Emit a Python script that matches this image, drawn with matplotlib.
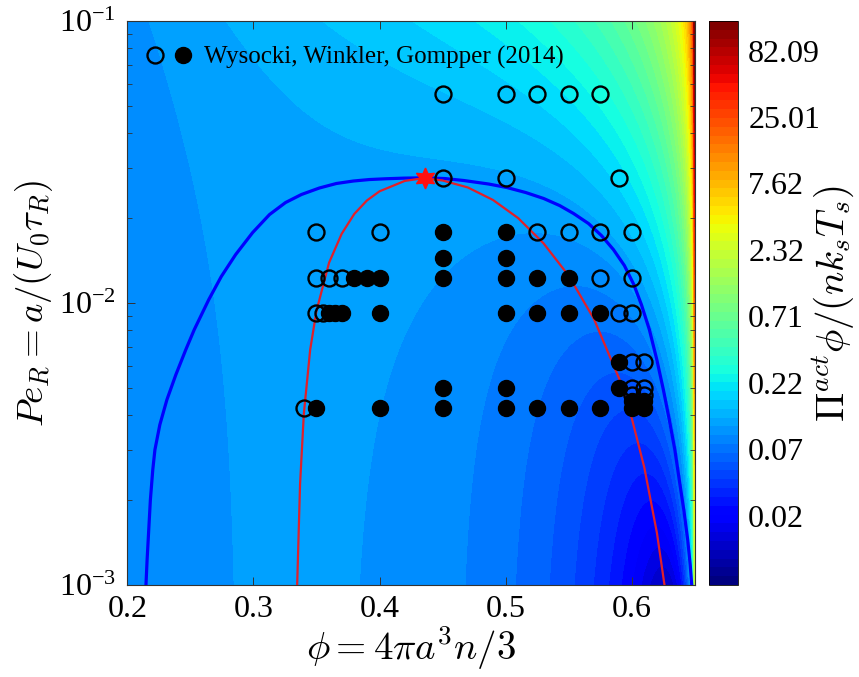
import numpy as np
import matplotlib.pyplot as plt
from matplotlib.colors import LogNorm
from matplotlib.cm import ScalarMappable
from matplotlib.legend_handler import HandlerTuple

plt.rcParams['font.family'] = 'Liberation Serif'
plt.rcParams['mathtext.fontset'] = 'cm'

# background map: active pressure model, Pi_act*phi/(n ks Ts)
phi0 = 0.65      # random close packing
coll = 3.0       # collisional coefficient
scale = 0.5

# binodal (blue)
binodal_phi = [0.2148, 0.2157, 0.2170, 0.2183, 0.2202, 0.2219, 0.2258, 0.2314,
               0.2385, 0.2464, 0.2531, 0.2646, 0.2745, 0.2859, 0.2994, 0.3128,
               0.3255, 0.3381, 0.3523, 0.3658, 0.3792, 0.3919, 0.4053, 0.4195,
               0.4361, 0.4520, 0.4670, 0.4867, 0.5010, 0.5160, 0.5302, 0.5429,
               0.5539, 0.5658, 0.5760, 0.5855, 0.5942, 0.6017, 0.6077, 0.6140,
               0.6199, 0.6251, 0.6298, 0.6342, 0.6377, 0.6413, 0.6444, 0.6464,
               0.6476]
binodal_pe = [0.00100, 0.001228, 0.001569, 0.002005, 0.002562, 0.003017,
              0.003701, 0.004540, 0.005569, 0.006834, 0.008048, 0.01028,
              0.01241, 0.01485, 0.01778, 0.02060, 0.02272, 0.02426, 0.02558,
              0.02654, 0.02708, 0.02741, 0.02759, 0.02773, 0.02780, 0.02763,
              0.02719, 0.02642, 0.02568, 0.02465, 0.02348, 0.02216, 0.02077,
              0.01913, 0.01735, 0.01547, 0.01358, 0.01162, 0.00987, 0.008048,
              0.006297, 0.004928, 0.003856, 0.003017, 0.002361, 0.001847,
              0.001446, 0.001178, 0.00100]

# spinodal (red)
spin_phi = [0.3347, 0.337, 0.34, 0.345, 0.35, 0.36, 0.37, 0.38, 0.39, 0.40,
            0.42, 0.43, 0.435, 0.44, 0.45, 0.47, 0.49, 0.51, 0.53, 0.55, 0.57,
            0.59, 0.60, 0.61, 0.62, 0.626]
spin_pe = [0.00100, 0.00228, 0.00405, 0.00682, 0.00937, 0.0139, 0.0176, 0.0207,
           0.0231, 0.0249, 0.0271, 0.02752, 0.02757, 0.02754, 0.0272, 0.0257,
           0.0232, 0.0200, 0.0163, 0.0125, 0.00879, 0.00540, 0.00391, 0.00261,
           0.00153, 0.00100]

crit_phi = 0.436
crit_pe = 0.0278

# Wysocki, Winkler, Gompper (2014): homogeneous (open) / phase separated (filled)
open_phi = [0.45, 0.5, 0.525, 0.55, 0.575,
            0.45, 0.5, 0.59,
            0.35, 0.4, 0.525, 0.55, 0.575, 0.6,
            0.35, 0.36, 0.37, 0.575, 0.6,
            0.35, 0.355, 0.59, 0.6,
            0.6, 0.61,
            0.6, 0.61, 0.6, 0.61,
            0.34]
open_pe = [0.055, 0.055, 0.055, 0.055, 0.055,
           0.0277, 0.0277, 0.0277,
           0.0179, 0.0179, 0.0179, 0.0179, 0.0179, 0.0179,
           0.0123, 0.0123, 0.0123, 0.0123, 0.0123,
           0.0092, 0.0092, 0.0092, 0.0092,
           0.0062, 0.0062,
           0.0050, 0.0050, 0.0047, 0.0047,
           0.00424]
filled_phi = [0.45, 0.5,
              0.45, 0.5,
              0.38, 0.39, 0.40, 0.45, 0.5, 0.525, 0.55,
              0.36, 0.365, 0.37, 0.40, 0.5, 0.525, 0.55, 0.575,
              0.59,
              0.45, 0.5, 0.59,
              0.6, 0.61,
              0.35, 0.40, 0.45, 0.5, 0.525, 0.55, 0.575, 0.6, 0.61]
filled_pe = [0.0179, 0.0179,
             0.0144, 0.0144,
             0.0123, 0.0123, 0.0123, 0.0123, 0.0123, 0.0123, 0.0123,
             0.0092, 0.0092, 0.0092, 0.0092, 0.0092, 0.0092, 0.0092, 0.0092,
             0.0062,
             0.0050, 0.0050, 0.0050,
             0.0045, 0.0045,
             0.00424, 0.00424, 0.00424, 0.00424, 0.00424, 0.00424, 0.00424, 0.00424, 0.00424]

cbar_ticks = [0.02, 0.07, 0.22, 0.71, 2.32, 7.62, 25.01, 82.09]
cmin, cmax = 0.0058, 139.0

fig = plt.figure(figsize=(8.59, 6.77), dpi=100)
ax = fig.add_axes([0.1482, 0.1359, 0.6606, 0.8330])
cax = fig.add_axes([0.8254, 0.1359, 0.0343, 0.8330])

phi = np.linspace(0.2, 0.6498, 700)
pe = np.logspace(-3, -1, 300)
P, E = np.meshgrid(phi, pe)
Z = scale * (P * (1 - P - P**2) + coll * P**2 * E / (1 - P / phi0))

norm = LogNorm(vmin=cmin, vmax=cmax)
step = 0.0847
levels = 10 ** (np.log10(0.0905) + step * np.arange(-15, 40))
ax.contourf(P, E, Z, levels=levels, cmap='jet', norm=norm, extend='both')

ax.plot(binodal_phi, binodal_pe, color='#0000ff', lw=2.3, zorder=3)
ax.plot(spin_phi, spin_pe, color='#e0202a', lw=1.6, zorder=3)

ms = 11.5
h_open, = ax.plot(open_phi, open_pe, 'o', ls='none', ms=ms, mfc='none',
                  mec='black', mew=1.7, zorder=4)
h_fill, = ax.plot(filled_phi, filled_pe, 'o', ls='none', ms=ms, mfc='black',
                  mec='black', mew=1.0, zorder=4)
ax.plot([crit_phi], [crit_pe], marker=(6, 1, 0), ms=15, color='#ff1010',
        mec='#ff1010', zorder=5)

ax.set_yscale('log')
ax.set_xlim(0.2, 0.65)
ax.set_ylim(1e-3, 1e-1)
ax.set_xticks([0.2, 0.3, 0.4, 0.5, 0.6])
ax.set_xticklabels(['0.2', '0.3', '0.4', '0.5', '0.6'])
ax.set_yticks([1e-3, 1e-2, 1e-1])
ax.set_yticklabels([r'$\mathregular{10^{-3}}$', r'$\mathregular{10^{-2}}$',
                    r'$\mathregular{10^{-1}}$'])
ax.tick_params(which='both', direction='in', top=True, right=True,
               labelsize=23, color='#333333')
ax.tick_params(which='major', length=6, width=0.7)
ax.tick_params(which='minor', length=3.5, width=0.6)
ax.tick_params(axis='x', pad=7)
ax.tick_params(axis='y', pad=8)
for s in ax.spines.values():
    s.set_color('#333333')
    s.set_linewidth(0.8)

ax.set_xlabel(r'$\phi = 4\pi a^3 n/3$', fontsize=28, labelpad=0)
ax.set_ylabel(r'$Pe_R = a/(U_0\tau_R)$', fontsize=26.5, labelpad=3)

leg = ax.legend([(h_open, h_fill)], ['Wysocki, Winkler, Gompper (2014)'],
                handler_map={tuple: HandlerTuple(ndivide=None, pad=0.5)},
                loc='upper left', frameon=False, fontsize=18,
                handlelength=1.8, handletextpad=0.5,
                bbox_to_anchor=(-0.006, 0.996))

cmap_bar = plt.get_cmap('jet', 64)
cb = fig.colorbar(ScalarMappable(norm=norm, cmap=cmap_bar), cax=cax)
cb.set_ticks(np.geomspace(cbar_ticks[0], cbar_ticks[-1], len(cbar_ticks)))
cb.set_ticklabels([f'{v:.2f}' for v in cbar_ticks])
cb.minorticks_off()
cax.tick_params(length=0, labelsize=23, pad=7)
cb.outline.set_linewidth(0.6)
cb.set_label(r'$\Pi^{act}\phi/(nk_sT_s)$', fontsize=28, labelpad=-7)

fig.savefig('out.png', dpi=100)
